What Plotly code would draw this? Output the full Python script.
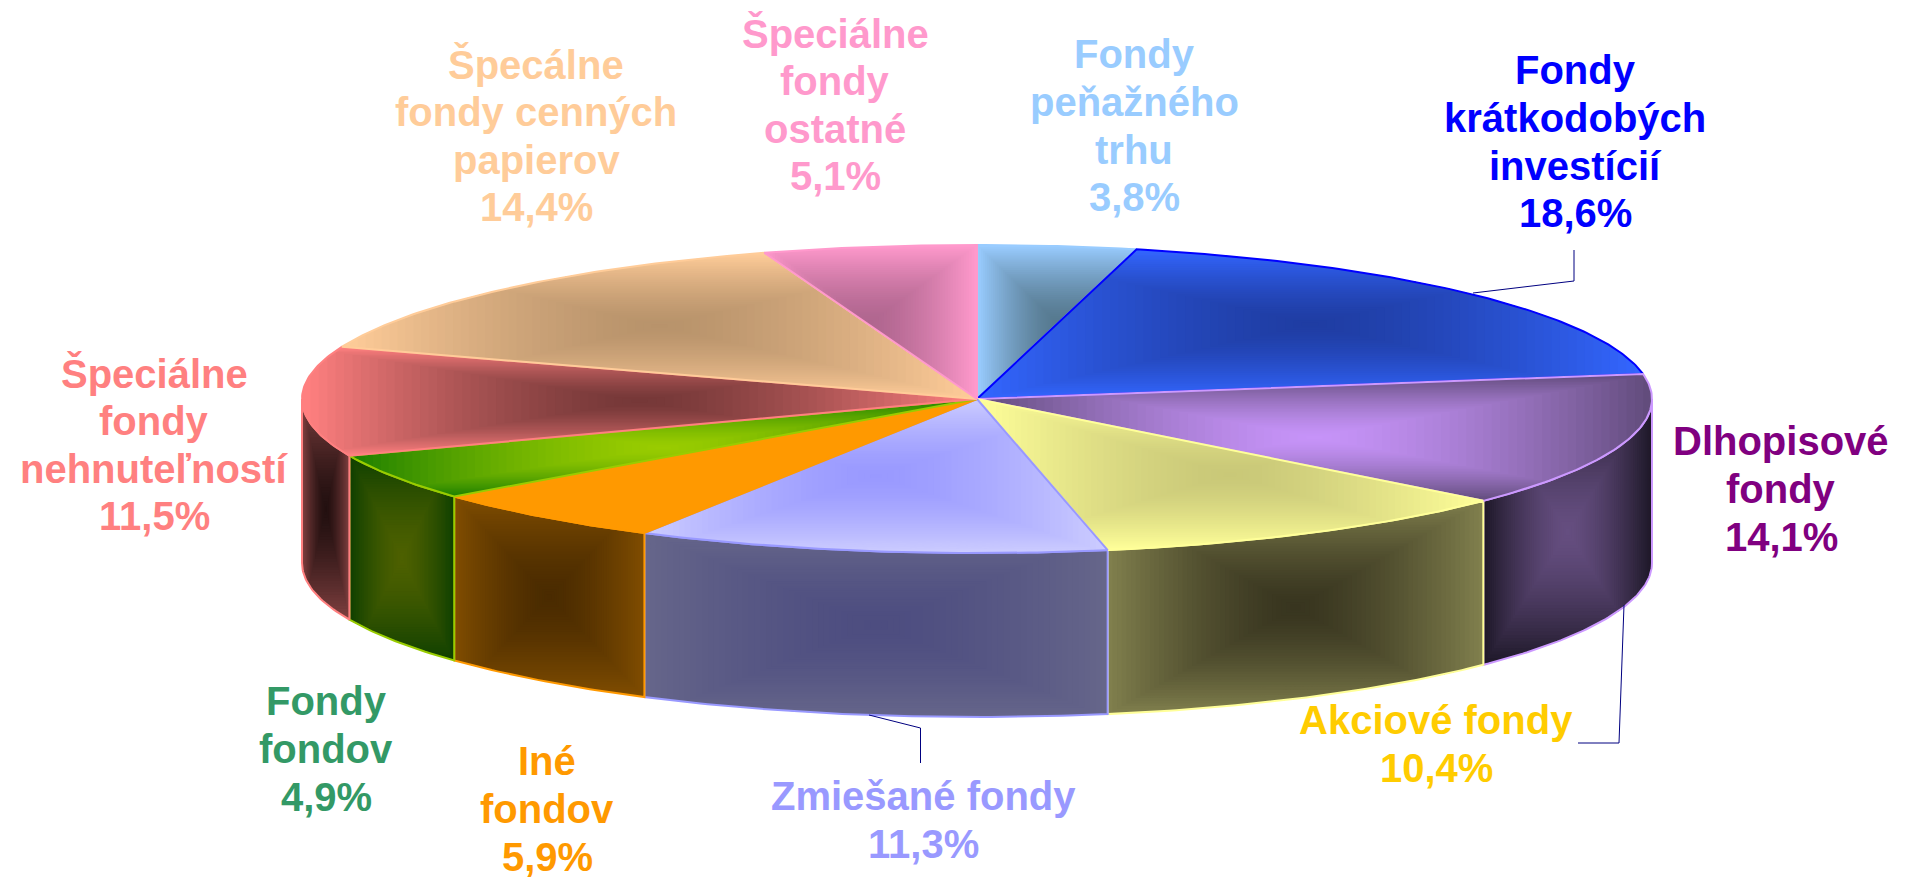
import math
import plotly.graph_objects as go

# ---- data (clockwise from 12 o'clock) ----
label_lines = [
    ["Fondy", "peňažného", "trhu", "3,8%"],
    ["Fondy", "krátkodobých", "investícií", "18,6%"],
    ["Dlhopisové", "fondy", "14,1%"],
    ["Akciové fondy", "10,4%"],
    ["Zmiešané fondy", "11,3%"],
    ["Iné", "fondov", "5,9%"],
    ["Fondy", "fondov", "4,9%"],
    ["Špeciálne", "fondy", "nehnuteľností", "11,5%"],
    ["Špecálne", "fondy cenných", "papierov", "14,4%"],
    ["Špeciálne", "fondy", "ostatné", "5,1%"],
]
shares = [3.8, 18.6, 14.1, 10.4, 11.3, 5.9, 4.9, 11.5, 14.4, 5.1]

# ---- style ----
label_colors = ["#99CCFF", "#0000FF", "#800080", "#FFCC00", "#9999FF",
                "#FF9900", "#339966", "#FF8080", "#FFCC99", "#FF99CC"]
label_x = [1134, 1575, 1781, 1436, 923, 547, 326, 154, 536, 835]
label_y0 = [54, 70, 441, 720, 796, 761, 701, 373, 64, 33]
LINE_GAP = 47.8
FONT_SIZE = 40

top_edge = ["#99CCFF", "#3366FF", "#624C7C", "#FFFF99", "#CCCCFF",
            "#FF9900", "#1E8000", "#FF8080", "#FFCC99", "#FF99CC"]
top_mid = ["#56798F", "#1F3DA3", "#C693F8", "#C9C878", "#9999FF",
           "#FF9900", "#99CC00", "#753838", "#B8936B", "#B0668F"]
side_edge = [None, None, "#1E1828", "#807F4D", "#66668A",
             "#804D00", "#0F4000", "#804040", None, None]
side_mid = [None, None, "#654E80", "#38351F", "#4D4D80",
            "#4A2B00", "#4D6000", "#231010", None, None]
outline = ["#99CCFF", "#0000FF", "#CC99FF", "#FFFF99", "#9999FF",
           "#FF9900", "#99CC00", "#FF8080", "#FFCC99", "#FF99CC"]

CX, CY, RX, RY, DEPTH = 977, 399, 675, 154, 164
LAYERS = 40
GRAD_POWER = 1.5

leaders = [
    ([1574, 1574, 1473], [250, 281, 293]),
    ([1624, 1619, 1578], [605, 743, 743]),
    ([869, 920.5, 920.5], [715, 728, 763]),
]


def pt(deg, dy=0.0):
    a = math.radians(deg)
    return (CX + RX * math.sin(a), CY - RY * math.cos(a) + dy)


def arc(a0, a1, dy=0.0):
    n = max(2, int(abs(a1 - a0) * 1.5))
    return [pt(a0 + (a1 - a0) * i / n, dy) for i in range(n + 1)]


def rgb(h):
    return tuple(int(h[i:i + 2], 16) for i in (1, 3, 5))


def mix(c0, c1, t):
    a, b = rgb(c0), rgb(c1)
    return "rgb(%d,%d,%d)" % tuple(round(a[i] + (b[i] - a[i]) * t) for i in range(3))


def clip(poly, axis, limit, keep_less):
    out = []
    ins = (lambda p: p[axis] <= limit) if keep_less else (lambda p: p[axis] >= limit)
    for i, p in enumerate(poly):
        q = poly[(i + 1) % len(poly)]
        if ins(p):
            out.append(p)
        if ins(p) != ins(q):
            t = (limit - p[axis]) / (q[axis] - p[axis])
            out.append((p[0] + (q[0] - p[0]) * t, p[1] + (q[1] - p[1]) * t))
    return out


def clip_rect(poly, x0, x1, y0, y1):
    for axis, limit, less in ((0, x0, False), (0, x1, True), (1, y0, False), (1, y1, True)):
        if not poly:
            return poly
        poly = clip(poly, axis, limit, less)
    return poly


def add_poly(fig, poly, color):
    fig.add_trace(go.Scatter(
        x=[p[0] for p in poly] + [poly[0][0]],
        y=[p[1] for p in poly] + [poly[0][1]],
        mode="lines", fill="toself", fillcolor=color,
        line=dict(width=0, color=color), hoverinfo="skip", showlegend=False))


def add_outline(fig, poly, color):
    fig.add_trace(go.Scatter(
        x=[p[0] for p in poly] + [poly[0][0]],
        y=[p[1] for p in poly] + [poly[0][1]],
        mode="lines", line=dict(width=2, color=color),
        hoverinfo="skip", showlegend=False))


def shaded(fig, poly, edge, mid):
    """Rectangular path gradient over the polygon's bounding box."""
    xs, ys = [p[0] for p in poly], [p[1] for p in poly]
    mx, my = (min(xs) + max(xs)) / 2, (min(ys) + max(ys)) / 2
    hw, hh = (max(xs) - min(xs)) / 2, (max(ys) - min(ys)) / 2
    if edge == mid:
        add_poly(fig, poly, edge)
        return
    for i in range(LAYERS):
        t = 1 - i / LAYERS
        part = clip_rect(poly, mx - hw * t, mx + hw * t, my - hh * t, my + hh * t)
        if len(part) >= 3:
            add_poly(fig, part, mix(mid, edge, t ** GRAD_POWER))


total = sum(shares)
bounds = [0.0]
for s in shares:
    bounds.append(bounds[-1] + s / total * 360)

fig = go.Figure()

# side walls (only the front half of the disc is visible)
for i in range(len(shares)):
    a0, a1 = max(bounds[i], 90), min(bounds[i + 1], 270)
    if a0 >= a1 or side_edge[i] is None:
        continue
    wall = arc(a0, a1) + arc(a1, a0, DEPTH)
    shaded(fig, wall, side_edge[i], side_mid[i])
    add_outline(fig, wall, outline[i])

# top faces
for i in range(len(shares)):
    sector = [(CX, CY)] + arc(bounds[i], bounds[i + 1])
    shaded(fig, sector, top_edge[i], top_mid[i])
    add_outline(fig, sector, outline[i])

# leader lines
for lx, ly in leaders:
    fig.add_trace(go.Scatter(x=lx, y=ly, mode="lines",
                             line=dict(width=1, color="#000080"),
                             hoverinfo="skip", showlegend=False))

# labels
for lines, x, y0, col in zip(label_lines, label_x, label_y0, label_colors):
    for j, txt in enumerate(lines):
        fig.add_annotation(x=x, y=y0 + j * LINE_GAP, text="<b>%s</b>" % txt,
                           showarrow=False, xanchor="center", yanchor="middle",
                           font=dict(family="Liberation Sans", size=FONT_SIZE, color=col))

fig.update_layout(
    width=1906, height=877, margin=dict(l=0, r=0, t=0, b=0),
    paper_bgcolor="white", plot_bgcolor="white", showlegend=False,
    xaxis=dict(range=[0, 1906], visible=False, fixedrange=True),
    yaxis=dict(range=[877, 0], visible=False, fixedrange=True),
)
fig.write_html("out.html", config={"displayModeBar": False},
               post_script="document.body.style.margin='0';document.documentElement.style.overflow='hidden';")
